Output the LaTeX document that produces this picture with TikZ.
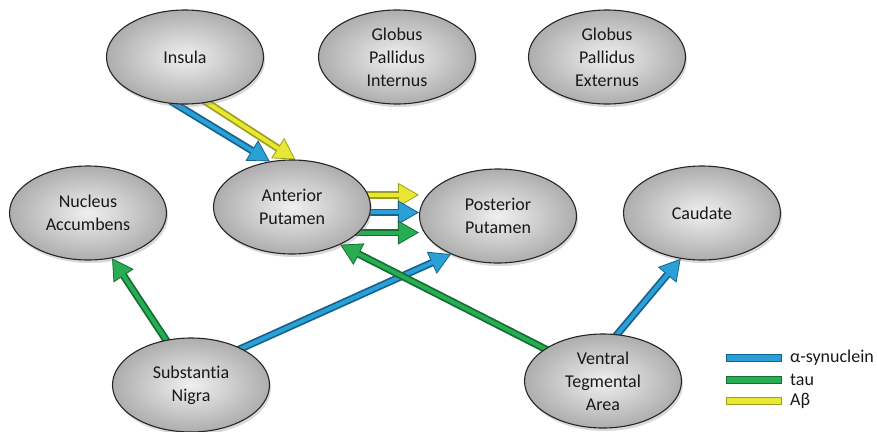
\documentclass[tikz,border=0pt]{standalone}
\usepackage{fontspec}
\setmainfont{Carlito}[Ligatures=NoCommon]
\usetikzlibrary{arrows.meta,shapes.geometric,shadows,backgrounds,positioning}

\definecolor{synblue}{RGB}{43,160,214}
\definecolor{synbluedk}{RGB}{22,98,142}
\definecolor{taugreen}{RGB}{40,172,84}
\definecolor{taugreendk}{RGB}{20,110,50}
\definecolor{abyellow}{RGB}{232,232,52}
\definecolor{abyellowdk}{RGB}{158,158,28}

\tikzset{
	region/.style={ellipse, draw=black!85, line width=1.1pt, minimum width=157pt, minimum height=94pt,
		inner sep=0pt, align=center, shade, inner color=black!6, outer color=black!32,
		drop shadow={shadow xshift=1.5pt, shadow yshift=-3pt, opacity=0.3},
		text=black!90, font=\fontsize{18}{23}\selectfont},
	flow/.style 2 args={draw=#1, line width=7.5pt, shorten <=-6pt,
		-{Triangle[length=21pt,width=24pt,line width=0.8pt,fill=#2]},
		postaction={draw=#2, line width=4pt, -, shorten >=20pt}},
	legbar/.style={rectangle, line width=0.8pt, minimum width=55pt, minimum height=7pt, inner sep=0pt},
	legtext/.style={inner sep=0pt, text=black!90, font=\fontsize{18}{22}\selectfont}
}

\begin{document}
\begin{tikzpicture}[x=1pt, y=-1pt]
		\useasboundingbox (0,0) rectangle (877,431);

		\node[region] (insula) at (185,57) {Insula};
		\node[region] (gpi) at (397,57) {Globus\\Pallidus\\Internus};
		\node[region] (gpe) at (607,57) {Globus\\Pallidus\\Externus};
		\node[region] (nacc) at (88,213) {Nucleus\\Accumbens};
		\node[region] (antput) at (292,207) {Anterior\\Putamen};
		\node[region] (postput) at (498,216) {Posterior\\Putamen};
		\node[region] (caudate) at (702,213) {Caudate};
		\node[region] (snigra) at (191,385) {Substantia\\Nigra};
		\node[region] (vta) at (603,381) {Ventral\\Tegmental\\Area};

		\begin{scope}[on background layer]
			\draw[flow={synbluedk}{synblue}] (insula.259) -- (antput.116);
			\draw[flow={abyellowdk}{abyellow}] (insula.296) -- (antput.86);

			\draw[flow={abyellowdk}{abyellow}] (antput.9) -- (antput.9 -| postput.west);
			\draw[flow={synbluedk}{synblue}] (antput.-4) -- (antput.-4 -| postput.west);
			\draw[flow={taugreendk}{taugreen}] (antput.-21) -- (antput.-21 -| postput.west);

			\draw[flow={taugreendk}{taugreen}] (snigra.119) -- (nacc.298);
			\draw[flow={synbluedk}{synblue}] (snigra.36) -- (postput.219);
			\draw[flow={taugreendk}{taugreen}] (vta.151) -- (antput.322);
			\draw[flow={synbluedk}{synblue}] (vta.73) -- (caudate.245);
		\end{scope}

		\node[legbar, draw=synbluedk, fill=synblue] (legsyn) at (754,358) {};
		\node[legbar, draw=taugreendk, fill=taugreen] (legtau) at (754,380) {};
		\node[legbar, draw=abyellowdk, fill=abyellow] (legab) at (754,401) {};
		\node[legtext, anchor=west, right=8pt of legsyn] {α-synuclein};
		\node[legtext, anchor=west, right=8pt of legtau] {tau};
		\node[legtext, anchor=west, right=8pt of legab] {Aβ};
	\end{tikzpicture}
\end{document}
